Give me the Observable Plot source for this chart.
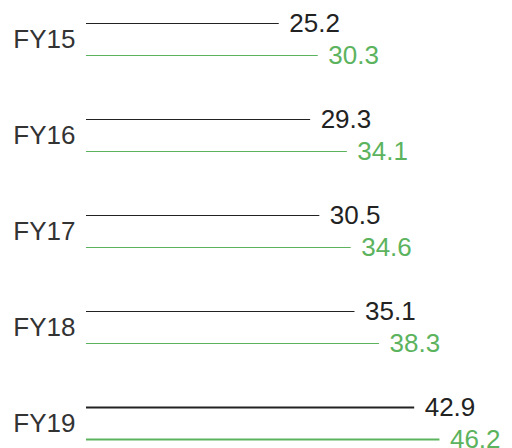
<!DOCTYPE html>
<html>
<head>
<meta charset="utf-8">
<script src="https://cdn.jsdelivr.net/npm/d3@7"></script>
<script src="https://cdn.jsdelivr.net/npm/@observablehq/plot@0.6"></script>
<style>
  html, body { margin: 0; padding: 0; background: #fff; overflow: hidden; }
  #chart svg { display: block; }
</style>
</head>
<body>
<div id="chart"></div>
<script>
const years = ["FY15", "FY16", "FY17", "FY18", "FY19"];
const seriesA = [25.2, 29.3, 30.5, 35.1, 42.9];
const seriesB = [30.3, 34.1, 34.6, 38.3, 46.2];
const highlightYear = "FY19";

const rowsA = years.map((year, i) => ({year, value: seriesA[i]}));
const rowsB = years.map((year, i) => ({year, value: seriesB[i]}));

const colorA = "#222222";
const colorB = "#5cb35e";
const font = "'Liberation Sans', Arial, Helvetica, sans-serif";
const sw = d => d.year === highlightYear ? 2 : 1;

const chart = Plot.plot({
  width: 512,
  height: 448,
  marginLeft: 86,
  marginRight: 43.5,
  marginTop: 39,
  marginBottom: 25,
  style: {fontFamily: font, background: "#fff"},
  x: {domain: [0, 50], axis: null},
  y: {type: "point", domain: years, padding: 0, axis: null},
  marks: [
    Plot.axisY({tickSize: 0, tickPadding: 11, fontSize: 26, fill: "#333", fontFamily: font, label: null}),
    Plot.ruleY(rowsA, {y: "year", x1: 0, x2: "value", dy: -16, stroke: colorA, strokeWidth: sw}),
    Plot.ruleY(rowsB, {y: "year", x1: 0, x2: "value", dy: 16, stroke: colorB, strokeWidth: sw}),
    Plot.text(rowsA, {y: "year", x: "value", dy: -16, dx: 10, text: d => d.value.toFixed(1), textAnchor: "start", fontSize: 26, fill: colorA}),
    Plot.text(rowsB, {y: "year", x: "value", dy: 16, dx: 10, text: d => d.value.toFixed(1), textAnchor: "start", fontSize: 26, fill: colorB})
  ]
});
document.getElementById("chart").appendChild(chart);
</script>
</body>
</html>
